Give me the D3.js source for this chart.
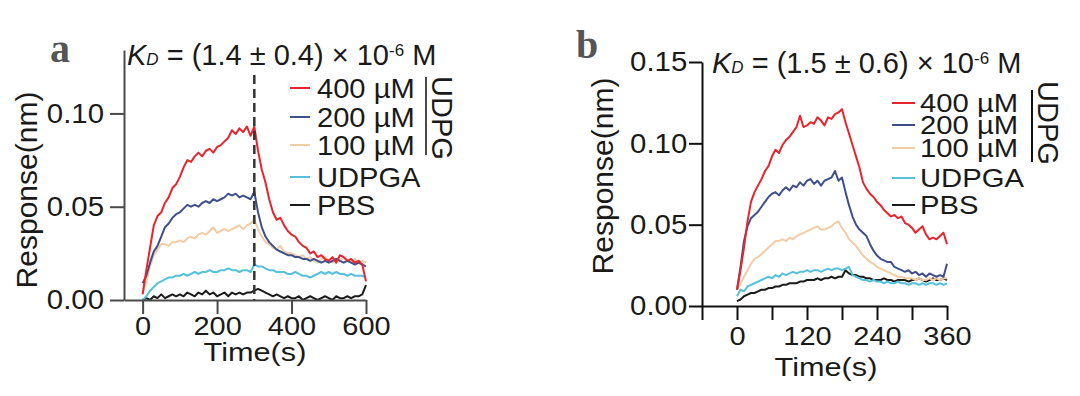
<!DOCTYPE html>
<html>
<head>
<meta charset="utf-8">
<script src="https://cdn.jsdelivr.net/npm/d3@7"></script>
<style>
  body { margin: 0; background: #fff; }
  svg { display: block; font-family: "Liberation Sans", Arial, sans-serif; }
</style>
</head>
<body>
<svg id="chart" width="1080" height="396"></svg>
<script>
// legend + colours shared by both panels
const legendLabels = ["400 µM", "200 µM", "100 µM", "UDPGA", "PBS"];
const seriesColors = ["#e8242c", "#3f4f8c", "#f1cca4", "#56c1d8", "#1b1b1b"];

// panel a: 0..600 s, one reading every 10 s
const timeA = d3.range(0, 601, 10);
const red400A = [0.003,0.016,0.028,0.040,0.045,0.047,0.052,0.055,0.060,0.062,
  0.066,0.071,0.075,0.074,0.077,0.079,0.077,0.080,0.081,0.079,
  0.082,0.083,0.085,0.087,0.091,0.089,0.092,0.090,0.093,0.088,
  0.093,0.080,0.070,0.063,0.054,0.047,0.043,0.044,0.040,0.037,
  0.035,0.034,0.031,0.029,0.028,0.025,0.026,0.023,0.024,0.022,
  0.021,0.023,0.020,0.024,0.023,0.021,0.022,0.020,0.021,0.019,0.010];
const blue200A = [0.009,0.013,0.020,0.026,0.029,0.034,0.039,0.041,0.044,0.046,
  0.047,0.049,0.051,0.050,0.051,0.050,0.052,0.053,0.052,0.054,
  0.053,0.054,0.055,0.057,0.056,0.057,0.055,0.056,0.055,0.054,
  0.058,0.047,0.039,0.034,0.031,0.029,0.027,0.026,0.025,0.024,
  0.024,0.023,0.023,0.022,0.022,0.021,0.022,0.021,0.020,0.021,
  0.020,0.021,0.022,0.021,0.020,0.021,0.020,0.019,0.020,0.019,0.018];
const peach100A = [0.004,0.010,0.018,0.024,0.027,0.030,0.030,0.029,0.031,0.031,
  0.032,0.031,0.033,0.034,0.033,0.035,0.036,0.035,0.037,0.039,
  0.036,0.037,0.038,0.037,0.038,0.039,0.040,0.038,0.040,0.041,
  0.043,0.038,0.034,0.031,0.030,0.028,0.027,0.029,0.026,0.025,
  0.025,0.024,0.023,0.024,0.022,0.023,0.021,0.020,0.022,0.023,
  0.021,0.020,0.022,0.021,0.023,0.021,0.020,0.022,0.020,0.021,0.020];
const udpgaA = [0.000,0.002,0.005,0.007,0.009,0.010,0.011,0.012,0.012,0.013,
  0.013,0.014,0.013,0.014,0.015,0.014,0.015,0.015,0.016,0.015,
  0.015,0.016,0.016,0.017,0.016,0.016,0.015,0.016,0.016,0.015,
  0.019,0.018,0.018,0.017,0.016,0.016,0.015,0.015,0.015,0.014,
  0.014,0.015,0.014,0.013,0.013,0.012,0.013,0.014,0.015,0.014,
  0.015,0.014,0.015,0.014,0.014,0.013,0.014,0.013,0.013,0.013,0.012];
const pbsA = [0.000,0.001,0.000,0.002,0.001,0.003,0.001,0.002,0.003,0.002,
  0.003,0.002,0.004,0.003,0.002,0.004,0.003,0.005,0.003,0.004,
  0.002,0.003,0.004,0.002,0.004,0.003,0.004,0.003,0.004,0.004,
  0.005,0.006,0.005,0.004,0.003,0.002,0.003,0.002,0.001,0.002,
  0.001,0.001,0.002,0.000,0.001,0.002,0.001,0.000,0.001,0.002,
  0.001,0.000,0.002,0.001,0.001,0.002,0.001,0.002,0.002,0.003,0.008];

// panel b: 0..360 s, one reading every 6 s
const timeB = d3.range(0, 361, 6);
const red400B = [0.010,0.022,0.036,0.052,0.064,0.070,0.074,0.078,0.083,0.086,
  0.092,0.096,0.094,0.099,0.102,0.104,0.107,0.110,0.117,0.110,
  0.111,0.113,0.112,0.116,0.114,0.111,0.116,0.115,0.118,0.119,
  0.121,0.113,0.106,0.099,0.092,0.085,0.076,0.072,0.069,0.067,
  0.064,0.062,0.059,0.057,0.055,0.056,0.054,0.055,0.051,0.050,
  0.048,0.045,0.047,0.049,0.044,0.041,0.042,0.041,0.043,0.045,0.038];
const blue200B = [0.010,0.024,0.040,0.049,0.054,0.056,0.058,0.061,0.064,0.067,
  0.069,0.070,0.068,0.071,0.073,0.071,0.074,0.073,0.076,0.074,
  0.077,0.078,0.075,0.077,0.074,0.077,0.078,0.079,0.083,0.077,
  0.079,0.070,0.062,0.055,0.050,0.047,0.045,0.043,0.038,0.034,
  0.031,0.029,0.028,0.027,0.027,0.024,0.023,0.022,0.021,0.022,
  0.020,0.021,0.019,0.020,0.018,0.020,0.019,0.018,0.019,0.018,0.026];
const peach100B = [0.010,0.014,0.018,0.022,0.026,0.029,0.030,0.032,0.034,0.036,
  0.038,0.040,0.040,0.041,0.040,0.042,0.041,0.043,0.044,0.045,
  0.046,0.047,0.048,0.049,0.047,0.047,0.048,0.049,0.051,0.052,
  0.048,0.045,0.041,0.039,0.037,0.034,0.031,0.029,0.027,0.026,
  0.024,0.023,0.022,0.021,0.020,0.019,0.018,0.018,0.017,0.017,
  0.017,0.016,0.017,0.016,0.016,0.017,0.016,0.017,0.016,0.017,0.017];
const udpgaB = [0.006,0.010,0.009,0.012,0.013,0.014,0.015,0.016,0.017,0.018,
  0.017,0.019,0.018,0.020,0.019,0.020,0.021,0.020,0.021,0.021,
  0.022,0.021,0.022,0.022,0.021,0.022,0.023,0.022,0.023,0.023,
  0.022,0.023,0.024,0.019,0.018,0.017,0.016,0.016,0.015,0.016,
  0.015,0.015,0.014,0.015,0.014,0.014,0.015,0.014,0.014,0.013,
  0.014,0.014,0.013,0.014,0.013,0.014,0.014,0.013,0.014,0.013,0.014];
const pbsB = [0.003,0.004,0.006,0.007,0.008,0.008,0.009,0.010,0.010,0.011,
  0.011,0.012,0.012,0.013,0.013,0.014,0.014,0.014,0.015,0.015,
  0.016,0.016,0.016,0.017,0.016,0.017,0.017,0.018,0.017,0.018,
  0.018,0.022,0.020,0.019,0.019,0.018,0.018,0.017,0.017,0.016,
  0.016,0.016,0.017,0.016,0.016,0.015,0.016,0.016,0.016,0.015,
  0.016,0.016,0.017,0.016,0.015,0.016,0.017,0.016,0.016,0.017,0.016];

const svg = d3.select("#chart");

const panels = [
  {
    letter: "a", letterX: 50, letterY: 62,
    time: timeA, series: [red400A, blue200A, peach100A, udpgaA, pbsA],
    xDomain: [-50, 600], xRange: [124, 366], xTicks: [0, 200, 400, 600], xLabeled: [0, 200, 400, 600],
    yDomain: [0, 0.134], yRange: [300, 50], yTicks: [0, 0.05, 0.10],
    axisColor: "#4a4a4a", yTick: 14, yPad: 5, xPad: 3,
    kd: "1.4 ± 0.4", titleX: 127, titleY: 65,
    yTitleX: 37, yTitleY: 190, xTitleX: 255, xTitleY: 361,
    legX: [290, 310, 317], legY: [88, 117, 145, 177, 205], legFont: 28, legScale: 1.04,
    brX: 426, brY: [77, 155], udpgX: 432, udpgY: 118,
    dashAt: 300
  },
  {
    letter: "b", letterX: 576, letterY: 58,
    time: timeB, series: [red400B, blue200B, peach100B, udpgaB, pbsB],
    xDomain: [-60, 360], xRange: [702, 947], xTicks: d3.range(-60, 361, 60), xLabeled: [0, 120, 240, 360],
    yDomain: [0, 0.15], yRange: [306, 62], yTicks: [0, 0.05, 0.10, 0.15],
    axisColor: "#111", yTick: 13, yPad: 1, xPad: 7,
    kd: "1.5 ± 0.6", titleX: 712, titleY: 73,
    yTitleX: 613, yTitleY: 176, xTitleX: 826, xTitleY: 376,
    legX: [892, 915, 920], legY: [103, 125, 148, 178, 205], legFont: 25, legScale: 1.17,
    brX: 1032, brY: [90, 162], udpgX: 1038, udpgY: 123,
    dashAt: null
  }
];

function drawPanel(p) {
  const x = d3.scaleLinear().domain(p.xDomain).range(p.xRange);
  const y = d3.scaleLinear().domain(p.yDomain).range(p.yRange);
  const g = svg.append("g");

  // panel letter
  g.append("text")
    .attr("x", p.letterX).attr("y", p.letterY)
    .attr("font-family", "'Liberation Serif', 'DejaVu Serif', serif")
    .attr("font-weight", "bold").attr("font-size", 40)
    .attr("fill", "#555")
    .text(p.letter);

  // curves, PBS first so red ends up on top
  const line = d3.line()
    .x((d, i) => x(p.time[i]))
    .y(d => y(d));
  for (let k = p.series.length - 1; k >= 0; k--) {
    g.append("path")
      .attr("d", line(p.series[k]))
      .attr("fill", "none")
      .attr("stroke", seriesColors[k])
      .attr("stroke-width", 2)
      .attr("stroke-linejoin", "round");
  }

  // dashed line where dissociation starts
  if (p.dashAt !== null) {
    g.append("line")
      .attr("x1", x(p.dashAt)).attr("x2", x(p.dashAt))
      .attr("y1", 75).attr("y2", y(0))
      .attr("stroke", "#333").attr("stroke-width", 2.5)
      .attr("stroke-dasharray", "9,5");
  }

  // axes
  const yAxis = d3.axisLeft(y)
    .tickValues(p.yTicks)
    .tickFormat(d3.format(".2f"))
    .tickSize(p.yTick).tickSizeOuter(0).tickPadding(p.yPad);
  const xAxis = d3.axisBottom(x)
    .tickValues(p.xTicks)
    .tickFormat(d => p.xLabeled.includes(d) ? d : "")
    .tickSize(14).tickSizeOuter(0).tickPadding(p.xPad);

  const ya = g.append("g").attr("transform", `translate(${p.xRange[0]},0)`).call(yAxis);
  const xa = g.append("g").attr("transform", `translate(0,${y(0)})`).call(xAxis);
  [ya, xa].forEach(a => {
    a.select(".domain").attr("stroke", p.axisColor).attr("stroke-width", 2);
    a.selectAll(".tick line").attr("stroke", p.axisColor).attr("stroke-width", 2);
    a.selectAll(".tick text")
      .attr("fill", "#1a1a1a")
      .attr("font-family", "'Liberation Sans', Arial, sans-serif");
  });
  ya.selectAll(".tick text").attr("font-size", 28).attr("transform", "scale(1.05,1)");
  // x tick labels in the figure are squat and wide
  xa.selectAll(".tick text").attr("font-size", 25).attr("transform", "scale(1.16,1)");

  // axis titles
  g.append("text")
    .attr("transform", `translate(${p.yTitleX},${p.yTitleY}) rotate(-90)`)
    .attr("text-anchor", "middle").attr("font-size", 30).attr("fill", "#1a1a1a")
    .text("Response(nm)");
  g.append("text")
    .attr("transform", `translate(${p.xTitleX},${p.xTitleY}) scale(1.18,1)`)
    .attr("text-anchor", "middle").attr("font-size", 26).attr("fill", "#1a1a1a")
    .text("Time(s)");

  // KD title
  const t = g.append("text")
    .attr("x", p.titleX).attr("y", p.titleY)
    .attr("font-size", 29).attr("fill", "#1a1a1a");
  t.append("tspan").attr("font-style", "italic").text("K");
  t.append("tspan").attr("font-style", "italic").attr("font-size", 17).text("D");
  t.append("tspan").text(` = (${p.kd}) × 10`);
  t.append("tspan").attr("font-size", 17).attr("dy", -9).text("-6");
  t.append("tspan").attr("dy", 9).text(" M");

  // legend
  legendLabels.forEach((lab, i) => {
    g.append("line")
      .attr("x1", p.legX[0]).attr("x2", p.legX[1])
      .attr("y1", p.legY[i]).attr("y2", p.legY[i])
      .attr("stroke", seriesColors[i]).attr("stroke-width", 2);
    g.append("text")
      .attr("transform", `translate(${p.legX[2]},${p.legY[i]}) scale(${p.legScale},1)`)
      .attr("dy", "0.36em")
      .attr("font-size", p.legFont).attr("fill", "#1a1a1a")
      .text(lab);
  });

  // UDPG bracket
  g.append("line")
    .attr("x1", p.brX).attr("x2", p.brX)
    .attr("y1", p.brY[0]).attr("y2", p.brY[1])
    .attr("stroke", p.axisColor).attr("stroke-width", 2);
  g.append("text")
    .attr("transform", `translate(${p.udpgX},${p.udpgY}) rotate(90)`)
    .attr("text-anchor", "middle").attr("font-size", 29).attr("fill", "#1a1a1a")
    .text("UDPG");
}

panels.forEach(drawPanel);
</script>
</body>
</html>
